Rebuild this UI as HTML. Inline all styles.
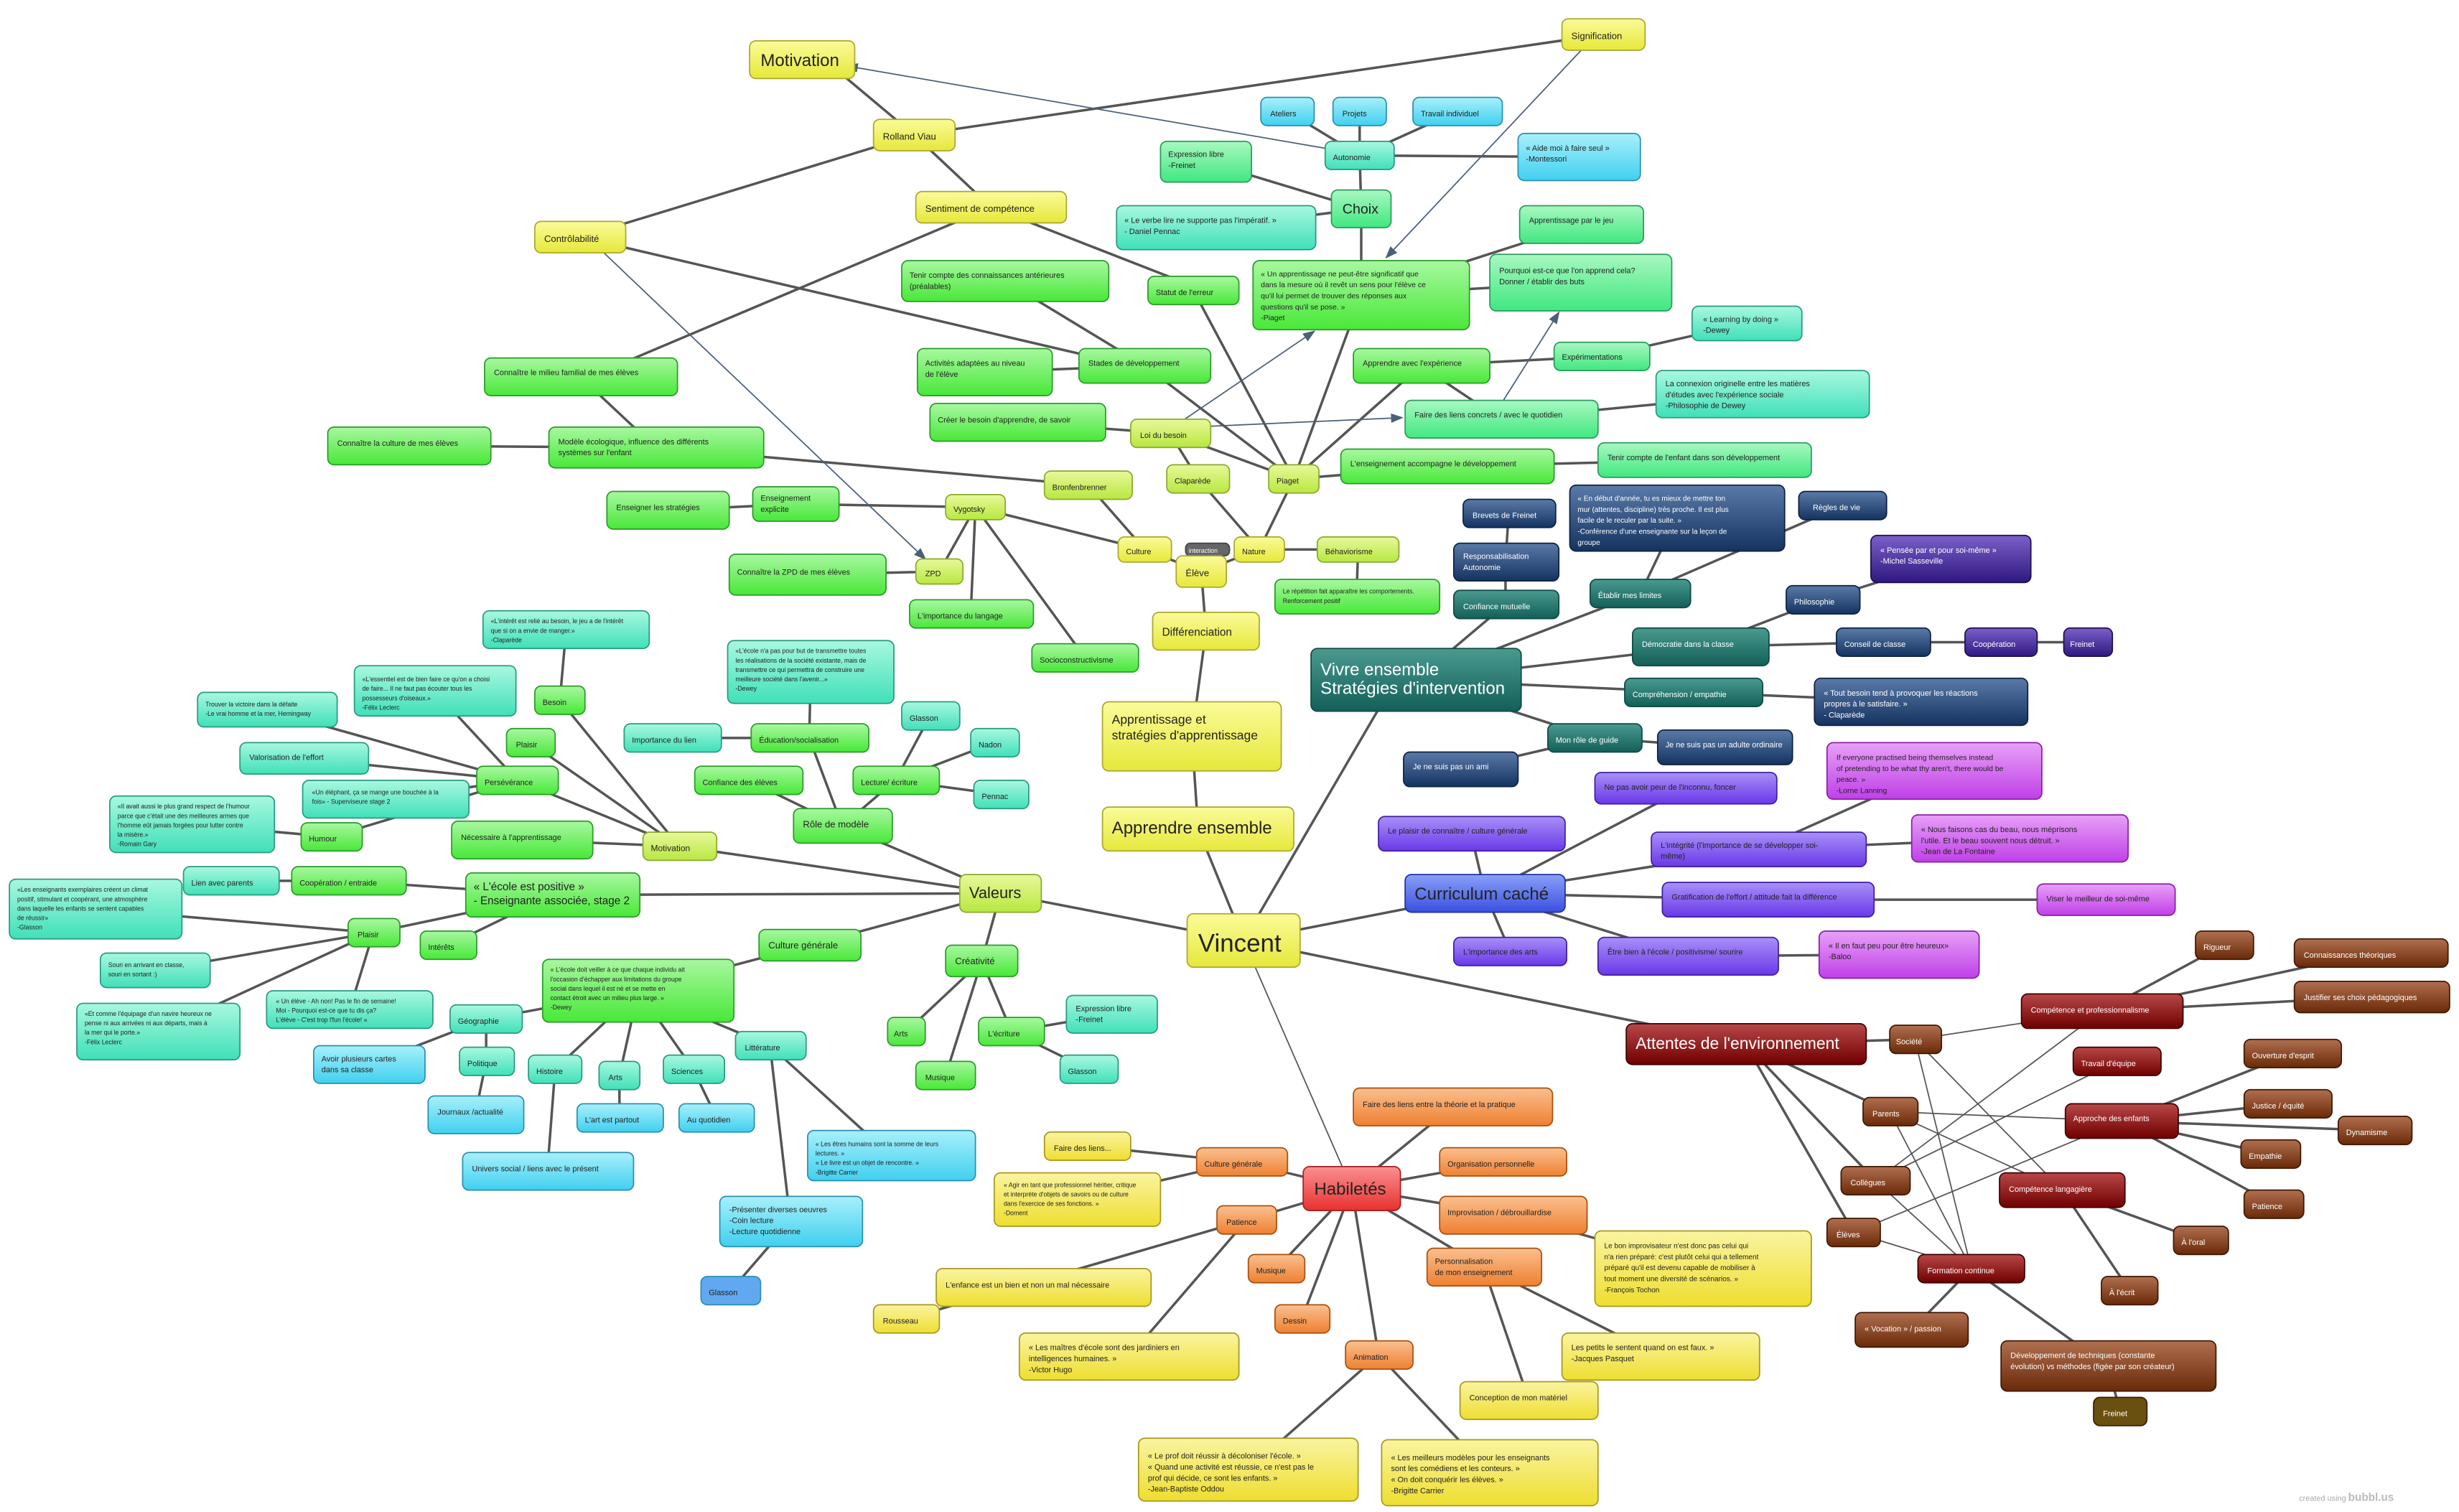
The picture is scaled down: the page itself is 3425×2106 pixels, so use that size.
<!DOCTYPE html>
<html><head><meta charset="utf-8"><style>
html,body{margin:0;padding:0;background:#fff;}
svg{display:block;}
text{font-family:"Liberation Sans",sans-serif;fill:#222;}
.e{stroke:#555;stroke-width:1.6;fill:none;stroke-linecap:round;}
.t{stroke:#555;stroke-width:0.8;fill:none;}
.a{stroke:#4a6078;stroke-width:0.8;fill:none;marker-end:url(#ar);}
.Y{fill:url(#gY);stroke:#aaa830;} .YG{fill:url(#gYG);stroke:#8aaa30;}
.G{fill:url(#gG);stroke:#2c9a2c;} .GA{fill:url(#gGA);stroke:#2c9a60;}
.A{fill:url(#gA);stroke:#2a9a80;} .C{fill:url(#gC);stroke:#2a90b0;}
.DT{fill:url(#gDT);stroke:#0e4a44;} .N{fill:url(#gN);stroke:#0e2244;}
.IN{fill:url(#gIN);stroke:#1e1050;} .P{fill:url(#gP);stroke:#4020a0;}
.B{fill:url(#gB);stroke:#2030a0;} .V{fill:url(#gV);stroke:#8a20a8;}
.DR{fill:url(#gDR);stroke:#400000;} .BR{fill:url(#gBR);stroke:#401800;}
.O{fill:url(#gO);stroke:#a85010;} .R{fill:url(#gR);stroke:#a82020;}
.YP{fill:url(#gYP);stroke:#a89820;}
rect{stroke-width:0.8;}
.w{fill:#fff;}
</style></head><body>
<svg width="3425" height="2106" viewBox="0 0 1568 963" preserveAspectRatio="none" xmlns="http://www.w3.org/2000/svg">
<defs>
<marker id="ar" markerWidth="8" markerHeight="8" refX="7" refY="3" orient="auto" markerUnits="userSpaceOnUse"><path d="M0,0 L8,3 L0,6 Z" fill="#4a6078"/></marker>
<linearGradient id="gY" x1="0" y1="0" x2="0" y2="1"><stop offset="0" stop-color="#fbfb9a"/><stop offset="1" stop-color="#e6e83a"/></linearGradient>
<linearGradient id="gYG" x1="0" y1="0" x2="0" y2="1"><stop offset="0" stop-color="#e8f89a"/><stop offset="1" stop-color="#b8e840"/></linearGradient>
<linearGradient id="gG" x1="0" y1="0" x2="0" y2="1"><stop offset="0" stop-color="#a8f8a0"/><stop offset="1" stop-color="#48e838"/></linearGradient>
<linearGradient id="gGA" x1="0" y1="0" x2="0" y2="1"><stop offset="0" stop-color="#a8f8c0"/><stop offset="1" stop-color="#40e880"/></linearGradient>
<linearGradient id="gA" x1="0" y1="0" x2="0" y2="1"><stop offset="0" stop-color="#a8f8e0"/><stop offset="1" stop-color="#40e0b8"/></linearGradient>
<linearGradient id="gC" x1="0" y1="0" x2="0" y2="1"><stop offset="0" stop-color="#a8f0fa"/><stop offset="1" stop-color="#40d0f0"/></linearGradient>
<linearGradient id="gDT" x1="0" y1="0" x2="0" y2="1"><stop offset="0" stop-color="#4a9a90"/><stop offset="1" stop-color="#126058"/></linearGradient>
<linearGradient id="gN" x1="0" y1="0" x2="0" y2="1"><stop offset="0" stop-color="#5a7aa8"/><stop offset="1" stop-color="#153360"/></linearGradient>
<linearGradient id="gIN" x1="0" y1="0" x2="0" y2="1"><stop offset="0" stop-color="#7a60c8"/><stop offset="1" stop-color="#301880"/></linearGradient>
<linearGradient id="gP" x1="0" y1="0" x2="0" y2="1"><stop offset="0" stop-color="#a890f8"/><stop offset="1" stop-color="#6a38e8"/></linearGradient>
<linearGradient id="gB" x1="0" y1="0" x2="0" y2="1"><stop offset="0" stop-color="#8aa0f8"/><stop offset="1" stop-color="#3a50e0"/></linearGradient>
<linearGradient id="gV" x1="0" y1="0" x2="0" y2="1"><stop offset="0" stop-color="#e8a0f8"/><stop offset="1" stop-color="#c040e8"/></linearGradient>
<linearGradient id="gDR" x1="0" y1="0" x2="0" y2="1"><stop offset="0" stop-color="#b84848"/><stop offset="1" stop-color="#700000"/></linearGradient>
<linearGradient id="gBR" x1="0" y1="0" x2="0" y2="1"><stop offset="0" stop-color="#b07050"/><stop offset="1" stop-color="#6a2a08"/></linearGradient>
<linearGradient id="gO" x1="0" y1="0" x2="0" y2="1"><stop offset="0" stop-color="#fac090"/><stop offset="1" stop-color="#ee8030"/></linearGradient>
<linearGradient id="gR" x1="0" y1="0" x2="0" y2="1"><stop offset="0" stop-color="#fa9090"/><stop offset="1" stop-color="#e83030"/></linearGradient>
<linearGradient id="gYP" x1="0" y1="0" x2="0" y2="1"><stop offset="0" stop-color="#faf4a0"/><stop offset="1" stop-color="#eede30"/></linearGradient>
</defs>

<!-- thick/normal edges -->
<g class="e">
<line x1="793" y1="599" x2="638" y2="569"/>
<line x1="793" y1="599" x2="764" y2="528"/>
<line x1="764" y1="528" x2="760" y2="469"/>
<line x1="760" y1="469" x2="769" y2="402"/>
<line x1="769" y1="402" x2="766" y2="364"/>
<line x1="793" y1="599" x2="880" y2="450"/>
<line x1="793" y1="599" x2="947" y2="569"/>
<line x1="793" y1="599" x2="1113" y2="665"/>
<line x1="903" y1="433" x2="960" y2="385"/>
<line x1="960" y1="385" x2="960" y2="358"/>
<line x1="960" y1="358" x2="962" y2="327"/>
<line x1="903" y1="433" x2="1046" y2="378"/>
<line x1="1046" y1="378" x2="1069" y2="330"/>
<line x1="1046" y1="378" x2="1175" y2="322"/>
<line x1="903" y1="433" x2="1084" y2="412"/>
<line x1="1084" y1="412" x2="1162" y2="382"/>
<line x1="1162" y1="382" x2="1244" y2="356"/>
<line x1="1084" y1="412" x2="1201" y2="409"/>
<line x1="1201" y1="409" x2="1276" y2="409"/>
<line x1="1276" y1="409" x2="1331" y2="409"/>
<line x1="903" y1="433" x2="1080" y2="441"/>
<line x1="1080" y1="441" x2="1225" y2="447"/>
<line x1="903" y1="433" x2="1017" y2="470"/>
<line x1="1017" y1="470" x2="931" y2="490"/>
<line x1="1017" y1="470" x2="1100" y2="476"/>
<line x1="947" y1="569" x2="1075" y2="502"/>
<line x1="947" y1="569" x2="938" y2="531"/>
<line x1="947" y1="569" x2="1121" y2="541"/>
<line x1="947" y1="569" x2="1127" y2="573"/>
<line x1="947" y1="569" x2="963" y2="606"/>
<line x1="947" y1="569" x2="1076" y2="609"/>
<line x1="1121" y1="541" x2="1233" y2="491"/>
<line x1="1121" y1="541" x2="1288" y2="534"/>
<line x1="1127" y1="573" x2="1343" y2="573"/>
<line x1="1076" y1="609" x2="1211" y2="608"/>
<line x1="1113" y1="665" x2="1221" y2="662"/>
<line x1="1113" y1="665" x2="1205" y2="708"/>
<line x1="1113" y1="665" x2="1196" y2="752"/>
<line x1="1113" y1="665" x2="1182" y2="785"/>
<line x1="1340" y1="644" x2="1418" y2="602"/>
<line x1="1340" y1="644" x2="1512" y2="607"/>
<line x1="1340" y1="644" x2="1512" y2="635"/>
<line x1="1353" y1="714" x2="1462" y2="671"/>
<line x1="1353" y1="714" x2="1459" y2="703"/>
<line x1="1353" y1="714" x2="1514" y2="720"/>
<line x1="1353" y1="714" x2="1448" y2="735"/>
<line x1="1353" y1="714" x2="1450" y2="767"/>
<line x1="1315" y1="758" x2="1403" y2="790"/>
<line x1="1315" y1="758" x2="1358" y2="822"/>
<line x1="1257" y1="808" x2="1219" y2="847"/>
<line x1="1257" y1="808" x2="1344" y2="870"/>
<line x1="1344" y1="870" x2="1352" y2="899"/>
<line x1="862" y1="757" x2="926" y2="705"/>
<line x1="862" y1="757" x2="792" y2="740"/>
<line x1="862" y1="757" x2="958" y2="740"/>
<line x1="862" y1="757" x2="795" y2="777"/>
<line x1="862" y1="757" x2="965" y2="774"/>
<line x1="862" y1="757" x2="946" y2="807"/>
<line x1="862" y1="757" x2="814" y2="808"/>
<line x1="862" y1="757" x2="830" y2="840"/>
<line x1="862" y1="757" x2="879" y2="863"/>
<line x1="792" y1="740" x2="693" y2="730"/>
<line x1="792" y1="740" x2="687" y2="764"/>
<line x1="795" y1="777" x2="578" y2="840"/>
<line x1="795" y1="777" x2="720" y2="864"/>
<line x1="965" y1="774" x2="1086" y2="808"/>
<line x1="946" y1="807" x2="1059" y2="864"/>
<line x1="946" y1="807" x2="975" y2="892"/>
<line x1="879" y1="863" x2="796" y2="936"/>
<line x1="879" y1="863" x2="950" y2="938"/>
<line x1="638" y1="569" x2="433" y2="539"/>
<line x1="638" y1="569" x2="352" y2="570"/>
<line x1="638" y1="569" x2="537" y2="526"/>
<line x1="638" y1="569" x2="516" y2="602"/>
<line x1="638" y1="569" x2="626" y2="612"/>
<line x1="433" y1="539" x2="357" y2="446"/>
<line x1="433" y1="539" x2="338" y2="473"/>
<line x1="433" y1="539" x2="330" y2="497"/>
<line x1="433" y1="539" x2="333" y2="535"/>
<line x1="357" y1="446" x2="361" y2="401"/>
<line x1="330" y1="497" x2="277" y2="440"/>
<line x1="330" y1="497" x2="170" y2="452"/>
<line x1="330" y1="497" x2="194" y2="483"/>
<line x1="330" y1="497" x2="246" y2="509"/>
<line x1="330" y1="497" x2="211" y2="533"/>
<line x1="211" y1="533" x2="122" y2="525"/>
<line x1="352" y1="570" x2="222" y2="561"/>
<line x1="352" y1="570" x2="238" y2="594"/>
<line x1="352" y1="570" x2="286" y2="602"/>
<line x1="222" y1="561" x2="147" y2="561"/>
<line x1="238" y1="594" x2="61" y2="579"/>
<line x1="238" y1="594" x2="99" y2="618"/>
<line x1="238" y1="594" x2="223" y2="643"/>
<line x1="238" y1="594" x2="101" y2="657"/>
<line x1="537" y1="526" x2="516" y2="470"/>
<line x1="537" y1="526" x2="477" y2="497"/>
<line x1="537" y1="526" x2="571" y2="497"/>
<line x1="516" y1="470" x2="517" y2="428"/>
<line x1="516" y1="470" x2="429" y2="470"/>
<line x1="571" y1="497" x2="593" y2="456"/>
<line x1="571" y1="497" x2="634" y2="473"/>
<line x1="571" y1="497" x2="638" y2="506"/>
<line x1="516" y1="602" x2="407" y2="631"/>
<line x1="407" y1="631" x2="310" y2="649"/>
<line x1="407" y1="631" x2="354" y2="681"/>
<line x1="407" y1="631" x2="395" y2="685"/>
<line x1="407" y1="631" x2="442" y2="681"/>
<line x1="407" y1="631" x2="491" y2="666"/>
<line x1="310" y1="649" x2="235" y2="678"/>
<line x1="310" y1="649" x2="310" y2="676"/>
<line x1="310" y1="676" x2="303" y2="710"/>
<line x1="354" y1="681" x2="349" y2="746"/>
<line x1="395" y1="685" x2="395" y2="712"/>
<line x1="442" y1="681" x2="457" y2="712"/>
<line x1="491" y1="666" x2="568" y2="736"/>
<line x1="491" y1="666" x2="504" y2="778"/>
<line x1="504" y1="778" x2="466" y2="822"/>
<line x1="626" y1="612" x2="578" y2="657"/>
<line x1="626" y1="612" x2="645" y2="657"/>
<line x1="626" y1="612" x2="603" y2="685"/>
<line x1="645" y1="657" x2="709" y2="646"/>
<line x1="645" y1="657" x2="694" y2="681"/>
<line x1="766" y1="364" x2="730" y2="350"/>
<line x1="766" y1="364" x2="803" y2="350"/>
<line x1="730" y1="350" x2="622" y2="323"/>
<line x1="730" y1="350" x2="694" y2="309"/>
<line x1="803" y1="350" x2="825" y2="305"/>
<line x1="803" y1="350" x2="764" y2="305"/>
<line x1="803" y1="350" x2="866" y2="350"/>
<line x1="866" y1="350" x2="865" y2="380"/>
<line x1="622" y1="323" x2="507" y2="321"/>
<line x1="507" y1="321" x2="426" y2="325"/>
<line x1="622" y1="323" x2="599" y2="364"/>
<line x1="599" y1="364" x2="515" y2="366"/>
<line x1="622" y1="323" x2="619" y2="391"/>
<line x1="622" y1="323" x2="692" y2="419"/>
<line x1="694" y1="309" x2="418" y2="285"/>
<line x1="418" y1="285" x2="261" y2="284"/>
<line x1="418" y1="285" x2="370" y2="240"/>
<line x1="825" y1="305" x2="730" y2="233"/>
<line x1="825" y1="305" x2="746" y2="276"/>
<line x1="825" y1="305" x2="761" y2="185"/>
<line x1="825" y1="305" x2="868" y2="188"/>
<line x1="825" y1="305" x2="906" y2="233"/>
<line x1="825" y1="305" x2="923" y2="297"/>
<line x1="730" y1="233" x2="641" y2="179"/>
<line x1="730" y1="233" x2="628" y2="237"/>
<line x1="746" y1="276" x2="649" y2="269"/>
<line x1="764" y1="305" x2="746" y2="276"/>
<line x1="906" y1="233" x2="957" y2="267"/>
<line x1="906" y1="233" x2="1021" y2="227"/>
<line x1="1021" y1="227" x2="1114" y2="206"/>
<line x1="957" y1="267" x2="1124" y2="251"/>
<line x1="923" y1="297" x2="1087" y2="293"/>
<line x1="868" y1="188" x2="868" y2="133"/>
<line x1="868" y1="188" x2="1008" y2="180"/>
<line x1="868" y1="188" x2="1008" y2="143"/>
<line x1="868" y1="133" x2="867" y2="99"/>
<line x1="868" y1="133" x2="769" y2="103"/>
<line x1="868" y1="133" x2="775" y2="145"/>
<line x1="867" y1="99" x2="821" y2="71"/>
<line x1="867" y1="99" x2="867" y2="71"/>
<line x1="867" y1="99" x2="929" y2="71"/>
<line x1="867" y1="99" x2="1007" y2="100"/>
<line x1="583" y1="86" x2="1022" y2="22"/>
<line x1="583" y1="86" x2="370" y2="151"/>
<line x1="583" y1="86" x2="632" y2="132"/>
<line x1="583" y1="86" x2="540" y2="50"/>
<line x1="632" y1="132" x2="400" y2="230"/>
<line x1="632" y1="132" x2="750" y2="178"/>
<line x1="370" y1="151" x2="700" y2="228"/>
</g>
<!-- thin lines -->
<g class="t">
<line x1="793" y1="599" x2="862" y2="757"/>
<line x1="1221" y1="662" x2="1340" y2="644"/>
<line x1="1221" y1="662" x2="1315" y2="758"/>
<line x1="1221" y1="662" x2="1257" y2="808"/>
<line x1="1205" y1="708" x2="1353" y2="714"/>
<line x1="1205" y1="708" x2="1315" y2="758"/>
<line x1="1205" y1="708" x2="1257" y2="808"/>
<line x1="1196" y1="752" x2="1340" y2="644"/>
<line x1="1196" y1="752" x2="1350" y2="676"/>
<line x1="1196" y1="752" x2="1257" y2="808"/>
<line x1="1182" y1="785" x2="1353" y2="714"/>
<line x1="1182" y1="785" x2="1257" y2="808"/>
</g>
<!-- arrows -->
<g>
<line class="a" x1="860" y1="97" x2="540" y2="42"/>
<line class="a" x1="1012" y1="28" x2="884" y2="164"/>
<line class="a" x1="384" y1="160" x2="590" y2="356"/>
<line class="a" x1="760" y1="272" x2="894" y2="266"/>
<line class="a" x1="754" y1="268" x2="838" y2="211"/>
<line class="a" x1="958" y1="256" x2="994" y2="199"/>
</g>

<!-- NODES -->
<g>
<rect class="Y" x="478" y="26" width="67" height="24" rx="4"/><text x="485" y="42" font-size="11">Motivation</text>
<rect class="Y" x="996" y="12" width="53" height="20" rx="4"/><text x="1002" y="25" font-size="6">Signification</text>
<rect class="Y" x="557" y="76" width="52" height="20" rx="4"/><text x="563" y="89" font-size="6">Rolland Viau</text>
<rect class="Y" x="341" y="141" width="58" height="20" rx="4"/><text x="347" y="154" font-size="6">Contrôlabilité</text>
<rect class="Y" x="584" y="122" width="96" height="20" rx="4"/><text x="590" y="135" font-size="6">Sentiment de compétence</text>

<rect class="C" x="804" y="62" width="34" height="18" rx="4"/><text x="810" y="74" font-size="5">Ateliers</text>
<rect class="C" x="850" y="62" width="34" height="18" rx="4"/><text x="856" y="74" font-size="5">Projets</text>
<rect class="C" x="901" y="62" width="57" height="18" rx="4"/><text x="906" y="74" font-size="5">Travail individuel</text>
<rect class="A" x="845" y="90" width="44" height="18" rx="4"/><text x="850" y="102" font-size="5">Autonomie</text>
<rect class="C" x="968" y="85" width="78" height="30" rx="4"/><text font-size="5"><tspan x="973" y="96">« Aide moi à faire seul »</tspan><tspan x="973" y="103">-Montessori</tspan></text>
<rect class="GA" x="740" y="90" width="58" height="26" rx="4"/><text font-size="5"><tspan x="745" y="100">Expression libre</tspan><tspan x="745" y="107">-Freinet</tspan></text>
<rect class="GA" x="849" y="121" width="38" height="24" rx="4"/><text x="856" y="136" font-size="9">Choix</text>
<rect class="A" x="712" y="131" width="127" height="28" rx="4"/><text font-size="5"><tspan x="717" y="142">« Le verbe lire ne supporte pas l'impératif. »</tspan><tspan x="717" y="149">- Daniel Pennac</tspan></text>
<rect class="GA" x="969" y="131" width="79" height="24" rx="4"/><text x="975" y="142" font-size="5">Apprentissage par le jeu</text>
<rect class="G" x="732" y="176" width="58" height="18" rx="4"/><text x="737" y="188" font-size="5">Statut de l'erreur</text>
<rect class="G" x="799" y="166" width="138" height="44" rx="4"/><text font-size="4.8"><tspan x="804" y="176">« Un apprentissage ne peut-être significatif que</tspan><tspan x="804" y="183">dans la mesure où il revêt un sens pour l'élève ce</tspan><tspan x="804" y="190">qu'il lui permet de trouver des réponses aux</tspan><tspan x="804" y="197">questions qu'il se pose. »</tspan><tspan x="804" y="204">-Piaget</tspan></text>
<rect class="GA" x="950" y="162" width="116" height="36" rx="4"/><text font-size="5"><tspan x="956" y="174">Pourquoi est-ce que l'on apprend cela?</tspan><tspan x="956" y="181">Donner / établir des buts</tspan></text>
<rect class="G" x="575" y="166" width="132" height="26" rx="4"/><text font-size="5"><tspan x="580" y="177">Tenir compte des connaissances antérieures</tspan><tspan x="580" y="184">(préalables)</tspan></text>
<rect class="G" x="309" y="228" width="123" height="24" rx="4"/><text x="315" y="239" font-size="5">Connaître le milieu familial de mes élèves</text>
<rect class="G" x="585" y="222" width="86" height="30" rx="4"/><text font-size="5"><tspan x="590" y="233">Activités adaptées au niveau</tspan><tspan x="590" y="240">de l'élève</tspan></text>
<rect class="G" x="688" y="222" width="84" height="22" rx="4"/><text x="694" y="233" font-size="5">Stades de développement</text>
<rect class="G" x="863" y="222" width="87" height="22" rx="4"/><text x="869" y="233" font-size="5">Apprendre avec l'expérience</text>
<rect class="GA" x="991" y="218" width="61" height="18" rx="4"/><text x="996" y="229" font-size="5">Expérimentations</text>
<rect class="A" x="1079" y="195" width="70" height="22" rx="4"/><text font-size="5"><tspan x="1086" y="205">« Learning by doing »</tspan><tspan x="1086" y="212">-Dewey</tspan></text>
<rect class="A" x="1056" y="236" width="136" height="30" rx="4"/><text font-size="5"><tspan x="1062" y="246">La connexion originelle entre les matières</tspan><tspan x="1062" y="253">d'études avec l'expérience sociale</tspan><tspan x="1062" y="260">-Philosophie de Dewey</tspan></text>
<rect class="G" x="593" y="257" width="112" height="24" rx="4"/><text x="598" y="269" font-size="5">Créer le besoin d'apprendre, de savoir</text>
<rect class="YG" x="721" y="267" width="51" height="18" rx="4"/><text x="727" y="279" font-size="5">Loi du besoin</text>
<rect class="GA" x="896" y="255" width="123" height="24" rx="4"/><text x="902" y="266" font-size="5">Faire des liens concrets / avec le quotidien</text>
<rect class="G" x="209" y="272" width="104" height="24" rx="4"/><text x="215" y="284" font-size="5">Connaître la culture de mes élèves</text>
<rect class="G" x="350" y="272" width="137" height="26" rx="4"/><text font-size="5"><tspan x="356" y="283">Modèle écologique, influence des différents</tspan><tspan x="356" y="290">systèmes sur l'enfant</tspan></text>
<rect class="YG" x="744" y="296" width="40" height="18" rx="4"/><text x="749" y="308" font-size="5">Claparède</text>
<rect class="YG" x="809" y="296" width="32" height="18" rx="4"/><text x="814" y="308" font-size="5">Piaget</text>
<rect class="G" x="855" y="286" width="136" height="22" rx="4"/><text x="861" y="297" font-size="5">L'enseignement accompagne le développement</text>
<rect class="GA" x="1019" y="282" width="136" height="22" rx="4"/><text x="1025" y="293" font-size="5">Tenir compte de l'enfant dans son développement</text>
<rect class="YG" x="666" y="300" width="56" height="18" rx="4"/><text x="671" y="312" font-size="5">Bronfenbrenner</text>
<rect class="G" x="387" y="313" width="78" height="24" rx="4"/><text x="393" y="325" font-size="5">Enseigner les stratégies</text>
<rect class="G" x="480" y="310" width="55" height="22" rx="4"/><text font-size="5"><tspan x="485" y="319">Enseignement</tspan><tspan x="485" y="326">explicite</tspan></text>
<rect class="YG" x="603" y="315" width="38" height="16" rx="4"/><text x="608" y="326" font-size="5">Vygotsky</text>
<rect class="Y" x="713" y="342" width="34" height="16" rx="4"/><text x="718" y="353" font-size="5">Culture</text>
<rect x="756" y="346" width="28" height="8" rx="3" fill="#666" stroke="#444"/><text x="758" y="352" font-size="4" class="w" style="fill:#fff">interaction</text>
<rect class="Y" x="787" y="342" width="32" height="16" rx="4"/><text x="792" y="353" font-size="5">Nature</text>
<rect class="YG" x="840" y="342" width="52" height="16" rx="4"/><text x="845" y="353" font-size="5">Béhaviorisme</text>
<rect class="Y" x="750" y="354" width="32" height="20" rx="4"/><text x="756" y="367" font-size="6">Élève</text>
<rect class="YG" x="584" y="356" width="30" height="16" rx="4"/><text x="590" y="367" font-size="5">ZPD</text>
<rect class="G" x="465" y="353" width="100" height="26" rx="4"/><text x="470" y="366" font-size="5">Connaître la ZPD de mes élèves</text>
<rect class="G" x="813" y="369" width="105" height="22" rx="4"/><text font-size="4"><tspan x="818" y="378">Le répétition fait apparaître les comportements.</tspan><tspan x="818" y="384">Renforcement positif</tspan></text>
<rect class="G" x="580" y="382" width="79" height="18" rx="4"/><text x="585" y="394" font-size="5">L'importance du langage</text>
<rect class="G" x="658" y="410" width="68" height="18" rx="4"/><text x="663" y="422" font-size="5">Socioconstructivisme</text>
<rect class="Y" x="735" y="390" width="68" height="24" rx="4"/><text x="741" y="405" font-size="7">Différenciation</text>

<rect class="N" x="933" y="318" width="59" height="18" rx="4"/><text x="939" y="330" font-size="5" style="fill:#fff">Brevets de Freinet</text>
<rect class="N" x="927" y="346" width="67" height="24" rx="4"/><text font-size="5" style="fill:#fff"><tspan x="933" y="356">Responsabilisation</tspan><tspan x="933" y="363">Autonomie</tspan></text>
<rect class="DT" x="927" y="376" width="67" height="18" rx="4"/><text x="933" y="388" font-size="5" style="fill:#fff">Confiance mutuelle</text>
<rect class="N" x="1001" y="309" width="137" height="42" rx="4"/><text font-size="4.6" style="fill:#fff"><tspan x="1006" y="319">« En début d'année, tu es mieux de mettre ton</tspan><tspan x="1006" y="326">mur (attentes, discipline) très proche. Il est plus</tspan><tspan x="1006" y="333">facile de le reculer par la suite. »</tspan><tspan x="1006" y="340">-Conférence d'une enseignante sur la leçon de</tspan><tspan x="1006" y="347">groupe</tspan></text>
<rect class="N" x="1147" y="313" width="56" height="18" rx="4"/><text x="1156" y="325" font-size="5" style="fill:#fff">Règles de vie</text>
<rect class="DT" x="1014" y="369" width="64" height="18" rx="4"/><text x="1019" y="381" font-size="5" style="fill:#fff">Établir mes limites</text>
<rect class="N" x="1139" y="373" width="47" height="18" rx="4"/><text x="1144" y="385" font-size="5" style="fill:#fff">Philosophie</text>
<rect class="IN" x="1193" y="341" width="102" height="30" rx="4"/><text font-size="5" style="fill:#fff"><tspan x="1199" y="352">« Pensée par et pour soi-même »</tspan><tspan x="1199" y="359">-Michel Sasseville</tspan></text>
<rect class="DT" x="1041" y="400" width="87" height="24" rx="4"/><text x="1047" y="412" font-size="5" style="fill:#fff">Démocratie dans la classe</text>
<rect class="N" x="1171" y="400" width="60" height="18" rx="4"/><text x="1176" y="412" font-size="5" style="fill:#fff">Conseil de classe</text>
<rect class="IN" x="1253" y="400" width="46" height="18" rx="4"/><text x="1258" y="412" font-size="5" style="fill:#fff">Coopération</text>
<rect class="IN" x="1316" y="400" width="31" height="18" rx="4"/><text x="1320" y="412" font-size="5" style="fill:#fff">Freinet</text>
<rect class="DT" x="836" y="413" width="134" height="40" rx="4"/><text font-size="11" style="fill:#fff"><tspan x="842" y="430">Vivre ensemble</tspan><tspan x="842" y="442">Stratégies d'intervention</tspan></text>
<rect class="DT" x="1036" y="432" width="88" height="18" rx="4"/><text x="1041" y="444" font-size="5" style="fill:#fff">Compréhension / empathie</text>
<rect class="N" x="1157" y="432" width="136" height="30" rx="4"/><text font-size="5" style="fill:#fff"><tspan x="1163" y="443">« Tout besoin tend à provoquer les réactions</tspan><tspan x="1163" y="450">propres à le satisfaire. »</tspan><tspan x="1163" y="457">- Claparède</tspan></text>
<rect class="DT" x="987" y="461" width="60" height="18" rx="4"/><text x="992" y="473" font-size="5" style="fill:#fff">Mon rôle de guide</text>
<rect class="N" x="1057" y="465" width="86" height="22" rx="4"/><text x="1062" y="476" font-size="5" style="fill:#fff">Je ne suis pas un adulte ordinaire</text>
<rect class="N" x="895" y="479" width="73" height="22" rx="4"/><text x="901" y="490" font-size="5" style="fill:#fff">Je ne suis pas un ami</text>

<rect class="V" x="1165" y="473" width="137" height="36" rx="4"/><text font-size="4.8"><tspan x="1171" y="484">If everyone practised being themselves instead</tspan><tspan x="1171" y="491">of pretending to be what thy aren't, there would be</tspan><tspan x="1171" y="498">peace. »</tspan><tspan x="1171" y="505">-Lorne Lanning</tspan></text>
<rect class="P" x="1017" y="492" width="116" height="20" rx="4"/><text x="1023" y="503" font-size="5">Ne pas avoir peur de l'inconnu, foncer</text>
<rect class="P" x="879" y="520" width="119" height="22" rx="4"/><text x="885" y="531" font-size="5">Le plaisir de connaître / culture générale</text>
<rect class="P" x="1053" y="530" width="137" height="22" rx="4"/><text font-size="5"><tspan x="1059" y="540">L'intégrité (l'importance de se développer soi-</tspan><tspan x="1059" y="547">même)</tspan></text>
<rect class="V" x="1219" y="519" width="138" height="30" rx="4"/><text font-size="5"><tspan x="1225" y="530">« Nous faisons cas du beau, nous méprisons</tspan><tspan x="1225" y="537">l'utile. Et le beau souvent nous détruit. »</tspan><tspan x="1225" y="544">-Jean de  La Fontaine</tspan></text>
<rect class="B" x="896" y="557" width="102" height="24" rx="4"/><text x="902" y="573" font-size="11">Curriculum caché</text>
<rect class="P" x="1060" y="562" width="135" height="22" rx="4"/><text x="1066" y="573" font-size="5">Gratification de l'effort / attitude fait la différence</text>
<rect class="V" x="1299" y="563" width="88" height="20" rx="4"/><text x="1305" y="574" font-size="5">Viser le meilleur de soi-même</text>
<rect class="P" x="927" y="597" width="72" height="18" rx="4"/><text x="933" y="608" font-size="5">L'importance des arts</text>
<rect class="P" x="1019" y="597" width="115" height="24" rx="4"/><text x="1025" y="608" font-size="5">Être bien à l'école / positivisme/ sourire</text>
<rect class="V" x="1160" y="593" width="102" height="30" rx="4"/><text font-size="5"><tspan x="1166" y="604">« Il en faut peu pour être heureux»</tspan><tspan x="1166" y="611">-Baloo</tspan></text>

<rect class="Y" x="757" y="582" width="72" height="34" rx="4"/><text x="764" y="606" font-size="16">Vincent</text>
<rect class="DR" x="1037" y="652" width="153" height="26" rx="4"/><text x="1043" y="668" font-size="10.5" style="fill:#fff">Attentes de l'environnement</text>

<rect class="Y" x="703" y="447" width="114" height="44" rx="4"/><text font-size="8"><tspan x="709" y="461">Apprentissage et</tspan><tspan x="709" y="471">stratégies d'apprentissage</tspan></text>
<rect class="Y" x="703" y="514" width="122" height="28" rx="4"/><text x="709" y="531" font-size="11">Apprendre ensemble</text>
<rect class="YG" x="612" y="557" width="52" height="24" rx="4"/><text x="618" y="572" font-size="10">Valeurs</text>

<rect class="A" x="308" y="389" width="106" height="24" rx="4"/><text font-size="4"><tspan x="313" y="397">«L'intérêt est relié au besoin, le jeu a de l'intérêt</tspan><tspan x="313" y="403">que si on a envie de manger.»</tspan><tspan x="313" y="409">-Claparède</tspan></text>
<rect class="G" x="341" y="437" width="32" height="18" rx="4"/><text x="346" y="449" font-size="5">Besoin</text>
<rect class="A" x="226" y="424" width="103" height="32" rx="4"/><text font-size="4"><tspan x="231" y="434">«L'essentiel est de bien faire ce qu'on a choisi</tspan><tspan x="231" y="440">de faire... Il ne faut pas écouter tous les</tspan><tspan x="231" y="446">possesseurs d'oiseaux.»</tspan><tspan x="231" y="452">-Félix Leclerc</tspan></text>
<rect class="A" x="126" y="441" width="89" height="22" rx="4"/><text font-size="4"><tspan x="131" y="450">Trouver la victoire dans la défaite</tspan><tspan x="131" y="456">-Le vrai homme et la mer, Hemingway</tspan></text>
<rect class="G" x="323" y="464" width="31" height="18" rx="4"/><text x="329" y="476" font-size="5">Plaisir</text>
<rect class="A" x="153" y="473" width="82" height="20" rx="4"/><text x="159" y="484" font-size="5">Valorisation de l'effort</text>
<rect class="G" x="304" y="488" width="52" height="18" rx="4"/><text x="309" y="500" font-size="5">Persévérance</text>
<rect class="A" x="193" y="497" width="106" height="24" rx="4"/><text font-size="4"><tspan x="199" y="506">«Un éléphant, ça se mange une bouchée à la</tspan><tspan x="199" y="512">fois» - Superviseure stage 2</tspan></text>
<rect class="A" x="70" y="507" width="105" height="36" rx="4"/><text font-size="4"><tspan x="75" y="515">«Il avait aussi le plus grand respect de l'humour</tspan><tspan x="75" y="521">parce que c'était une des meilleures armes que</tspan><tspan x="75" y="527">l'homme eût jamais forgées pour lutter contre</tspan><tspan x="75" y="533">la misère.»</tspan><tspan x="75" y="539">-Romain Gary</tspan></text>
<rect class="G" x="192" y="524" width="39" height="18" rx="4"/><text x="197" y="536" font-size="5">Humour</text>
<rect class="G" x="288" y="523" width="90" height="24" rx="4"/><text x="294" y="535" font-size="5">Nécessaire à l'apprentissage</text>
<rect class="YG" x="410" y="530" width="47" height="18" rx="4"/><text x="415" y="542" font-size="5.5">Motivation</text>
<rect class="A" x="464" y="408" width="106" height="40" rx="4"/><text font-size="4"><tspan x="469" y="416">«L'école n'a pas pour but de transmettre toutes</tspan><tspan x="469" y="422">les réalisations de la société existante, mais de</tspan><tspan x="469" y="428">transmettre ce qui permettra de construire une</tspan><tspan x="469" y="434">meilleure société dans l'avenir...»</tspan><tspan x="469" y="440">-Dewey</tspan></text>
<rect class="A" x="398" y="461" width="62" height="18" rx="4"/><text x="403" y="473" font-size="5">Importance du lien</text>
<rect class="G" x="479" y="461" width="75" height="18" rx="4"/><text x="484" y="473" font-size="5">Éducation/socialisation</text>
<rect class="A" x="575" y="447" width="37" height="18" rx="4"/><text x="580" y="459" font-size="5">Glasson</text>
<rect class="G" x="443" y="488" width="69" height="18" rx="4"/><text x="448" y="500" font-size="5">Confiance des élèves</text>
<rect class="G" x="544" y="488" width="55" height="18" rx="4"/><text x="549" y="500" font-size="5">Lecture/ écriture</text>
<rect class="A" x="619" y="464" width="31" height="18" rx="4"/><text x="624" y="476" font-size="5">Nadon</text>
<rect class="A" x="621" y="497" width="35" height="18" rx="4"/><text x="626" y="509" font-size="5">Pennac</text>
<rect class="G" x="506" y="515" width="63" height="22" rx="4"/><text x="512" y="527" font-size="6">Rôle de modèle</text>
<rect class="A" x="117" y="552" width="61" height="18" rx="4"/><text x="122" y="564" font-size="5">Lien avec parents</text>
<rect class="G" x="186" y="552" width="73" height="18" rx="4"/><text x="191" y="564" font-size="5">Coopération / entraide</text>
<rect class="G" x="297" y="556" width="111" height="28" rx="4"/><text font-size="7"><tspan x="302" y="567">« L'école est positive »</tspan><tspan x="302" y="576">- Enseignante associée, stage 2</tspan></text>
<rect class="A" x="6" y="560" width="110" height="38" rx="4"/><text font-size="4"><tspan x="11" y="568">«Les enseignants exemplaires créent un climat</tspan><tspan x="11" y="574">positif, stimulant et coopérant, une atmosphère</tspan><tspan x="11" y="580">dans laquelle les enfants se sentent capables</tspan><tspan x="11" y="586">de réussir»</tspan><tspan x="11" y="592">-Glasson</tspan></text>
<rect class="G" x="222" y="585" width="33" height="18" rx="4"/><text x="228" y="597" font-size="5">Plaisir</text>
<rect class="G" x="268" y="593" width="36" height="18" rx="4"/><text x="273" y="605" font-size="5">Intérêts</text>
<rect class="G" x="484" y="592" width="65" height="20" rx="4"/><text x="490" y="604" font-size="6">Culture générale</text>
<rect class="A" x="64" y="607" width="70" height="22" rx="4"/><text font-size="4"><tspan x="69" y="616">Souri en arrivant en classe,</tspan><tspan x="69" y="622">souri en sortant :)</tspan></text>
<rect class="G" x="603" y="602" width="46" height="20" rx="4"/><text x="609" y="614" font-size="6">Créativité</text>
<rect class="G" x="346" y="611" width="122" height="40" rx="4"/><text font-size="4"><tspan x="351" y="619">« L'école doit veiller à ce que chaque individu ait</tspan><tspan x="351" y="625">l'occasion d'échapper aux limitations du groupe</tspan><tspan x="351" y="631">social dans lequel il est né et se mette en</tspan><tspan x="351" y="637">contact étroit avec un milieu plus large. »</tspan><tspan x="351" y="643">-Dewey</tspan></text>
<rect class="A" x="287" y="640" width="46" height="18" rx="4"/><text x="292" y="652" font-size="5">Géographie</text>
<rect class="A" x="170" y="631" width="106" height="24" rx="4"/><text font-size="4"><tspan x="176" y="639">« Un élève - Ah non! Pas le fin de semaine!</tspan><tspan x="176" y="645">Moi - Pourquoi est-ce que tu dis ça?</tspan><tspan x="176" y="651">L'élève - C'est trop l'fun l'école! »</tspan></text>
<rect class="A" x="49" y="639" width="104" height="36" rx="4"/><text font-size="4"><tspan x="54" y="647">«Et comme l'équipage d'un navire heureux ne</tspan><tspan x="54" y="653">pense ni aux arrivées ni aux départs, mais à</tspan><tspan x="54" y="659">la mer qui le porte.»</tspan><tspan x="54" y="665">-Félix Leclerc</tspan></text>
<rect class="G" x="566" y="648" width="24" height="18" rx="4"/><text x="570" y="660" font-size="5">Arts</text>
<rect class="G" x="624" y="648" width="42" height="18" rx="4"/><text x="630" y="660" font-size="5">L'écriture</text>
<rect class="A" x="680" y="634" width="58" height="24" rx="4"/><text font-size="5"><tspan x="686" y="644">Expression libre</tspan><tspan x="686" y="651">-Freinet</tspan></text>
<rect class="A" x="469" y="657" width="45" height="18" rx="4"/><text x="475" y="669" font-size="5">Littérature</text>
<rect class="C" x="200" y="666" width="71" height="24" rx="4"/><text font-size="5"><tspan x="205" y="676">Avoir plusieurs cartes</tspan><tspan x="205" y="683">dans sa classe</tspan></text>
<rect class="A" x="293" y="667" width="35" height="18" rx="4"/><text x="298" y="679" font-size="5">Politique</text>
<rect class="A" x="337" y="672" width="34" height="18" rx="4"/><text x="342" y="684" font-size="5">Histoire</text>
<rect class="A" x="382" y="676" width="26" height="18" rx="4"/><text x="388" y="688" font-size="5">Arts</text>
<rect class="A" x="423" y="672" width="39" height="18" rx="4"/><text x="428" y="684" font-size="5">Sciences</text>
<rect class="A" x="676" y="672" width="37" height="18" rx="4"/><text x="681" y="684" font-size="5">Glasson</text>
<rect class="G" x="584" y="676" width="38" height="18" rx="4"/><text x="590" y="688" font-size="5">Musique</text>
<rect class="C" x="273" y="698" width="61" height="24" rx="4"/><text x="279" y="710" font-size="5">Journaux /actualité</text>
<rect class="C" x="368" y="703" width="55" height="18" rx="4"/><text x="373" y="715" font-size="5">L'art est partout</text>
<rect class="C" x="433" y="703" width="48" height="18" rx="4"/><text x="438" y="715" font-size="5">Au quotidien</text>
<rect class="C" x="515" y="720" width="107" height="32" rx="4"/><text font-size="4"><tspan x="520" y="730">« Les êtres humains sont la somme de leurs</tspan><tspan x="520" y="736">lectures. »</tspan><tspan x="520" y="742">« Le livre est un objet de rencontre. »</tspan><tspan x="520" y="748">-Brigitte Carrier</tspan></text>
<rect class="C" x="295" y="734" width="109" height="24" rx="4"/><text x="301" y="746" font-size="5">Univers social / liens avec le présent</text>
<rect class="C" x="459" y="762" width="91" height="32" rx="4"/><text font-size="5"><tspan x="465" y="772">-Présenter diverses oeuvres</tspan><tspan x="465" y="779">-Coin lecture</tspan><tspan x="465" y="786">-Lecture quotidienne</tspan></text>
<rect class="C" x="447" y="813" width="38" height="18" rx="4" style="fill:#60a8f0"/><text x="452" y="825" font-size="5">Glasson</text>

<rect class="O" x="863" y="693" width="127" height="24" rx="4"/><text x="869" y="705" font-size="5">Faire des liens entre la théorie et la pratique</text>
<rect class="YP" x="666" y="721" width="55" height="18" rx="4"/><text x="672" y="733" font-size="5">Faire des liens...</text>
<rect class="O" x="763" y="731" width="58" height="18" rx="4"/><text x="768" y="743" font-size="5">Culture générale</text>
<rect class="O" x="918" y="731" width="81" height="18" rx="4"/><text x="923" y="743" font-size="5">Organisation personnelle</text>
<rect class="R" x="831" y="743" width="62" height="28" rx="4"/><text x="838" y="761" font-size="11">Habiletés</text>
<rect class="YP" x="634" y="747" width="106" height="34" rx="4"/><text font-size="4"><tspan x="640" y="756">« Agir en tant que professionnel héritier, critique</tspan><tspan x="640" y="762">et interprète d'objets de savoirs ou de culture</tspan><tspan x="640" y="768">dans l'exercice de ses fonctions. »</tspan><tspan x="640" y="774">-Doment</tspan></text>
<rect class="O" x="776" y="768" width="38" height="18" rx="4"/><text x="782" y="780" font-size="5">Patience</text>
<rect class="O" x="918" y="762" width="94" height="24" rx="4"/><text x="923" y="774" font-size="5">Improvisation / débrouillardise</text>
<rect class="YP" x="1017" y="784" width="138" height="48" rx="4"/><text font-size="4.6"><tspan x="1023" y="795">Le bon improvisateur n'est donc pas celui qui</tspan><tspan x="1023" y="802">n'a rien préparé: c'est plutôt celui qui a tellement</tspan><tspan x="1023" y="809">préparé qu'il est devenu capable de mobiliser à</tspan><tspan x="1023" y="816">tout moment une diversité de scénarios. »</tspan><tspan x="1023" y="823">-François Tochon</tspan></text>
<rect class="O" x="910" y="795" width="73" height="24" rx="4"/><text font-size="5"><tspan x="915" y="805">Personnalisation</tspan><tspan x="915" y="812">de mon enseignement</tspan></text>
<rect class="O" x="796" y="799" width="36" height="18" rx="4"/><text x="801" y="811" font-size="5">Musique</text>
<rect class="YP" x="597" y="808" width="137" height="24" rx="4"/><text x="603" y="820" font-size="5">L'enfance est un bien et non un mal nécessaire</text>
<rect class="YP" x="557" y="831" width="42" height="18" rx="4"/><text x="563" y="843" font-size="5">Rousseau</text>
<rect class="O" x="813" y="831" width="35" height="18" rx="4"/><text x="818" y="843" font-size="5">Dessin</text>
<rect class="YP" x="650" y="849" width="140" height="30" rx="4"/><text font-size="5"><tspan x="656" y="860">« Les maîtres d'école sont des jardiniers en</tspan><tspan x="656" y="867">intelligences humaines. »</tspan><tspan x="656" y="874">-Victor Hugo</tspan></text>
<rect class="YP" x="996" y="849" width="126" height="30" rx="4"/><text font-size="5"><tspan x="1002" y="860">Les petits le sentent quand on est faux. »</tspan><tspan x="1002" y="867">-Jacques Pasquet</tspan></text>
<rect class="O" x="858" y="854" width="43" height="18" rx="4"/><text x="863" y="866" font-size="5">Animation</text>
<rect class="YP" x="931" y="880" width="88" height="24" rx="4"/><text x="937" y="892" font-size="5">Conception de mon matériel</text>
<rect class="YP" x="726" y="916" width="140" height="40" rx="4"/><text font-size="5"><tspan x="732" y="929">« Le prof doit réussir à décoloniser l'école. »</tspan><tspan x="732" y="936">« Quand une activité est réussie, ce n'est pas le</tspan><tspan x="732" y="943">prof qui décide, ce sont les enfants. »</tspan><tspan x="732" y="950">-Jean-Baptiste Oddou</tspan></text>
<rect class="YP" x="881" y="917" width="138" height="42" rx="4"/><text font-size="5"><tspan x="887" y="930">« Les meilleurs modèles pour les enseignants</tspan><tspan x="887" y="937">sont les comédiens et les conteurs. »</tspan><tspan x="887" y="944">« On doit conquérir les élèves. »</tspan><tspan x="887" y="951">-Brigitte Carrier</tspan></text>

<rect class="BR" x="1400" y="593" width="37" height="18" rx="4"/><text x="1405" y="605" font-size="5" style="fill:#fff">Rigueur</text>
<rect class="BR" x="1463" y="598" width="98" height="18" rx="4"/><text x="1469" y="610" font-size="5" style="fill:#fff">Connaissances théoriques</text>
<rect class="DR" x="1289" y="633" width="103" height="22" rx="4"/><text x="1295" y="645" font-size="5" style="fill:#fff">Compétence et professionnalisme</text>
<rect class="BR" x="1463" y="625" width="99" height="20" rx="4"/><text x="1469" y="637" font-size="5" style="fill:#fff">Justifier ses choix pédagogiques</text>
<rect class="BR" x="1205" y="653" width="33" height="18" rx="4"/><text x="1209" y="665" font-size="5" style="fill:#fff">Société</text>
<rect class="BR" x="1431" y="662" width="62" height="18" rx="4"/><text x="1436" y="674" font-size="5" style="fill:#fff">Ouverture d'esprit</text>
<rect class="DR" x="1322" y="667" width="56" height="18" rx="4"/><text x="1327" y="679" font-size="5" style="fill:#fff">Travail d'équipe</text>
<rect class="BR" x="1188" y="699" width="35" height="18" rx="4"/><text x="1194" y="711" font-size="5" style="fill:#fff">Parents</text>
<rect class="DR" x="1317" y="703" width="72" height="22" rx="4"/><text x="1322" y="714" font-size="5" style="fill:#fff">Approche des enfants</text>
<rect class="BR" x="1431" y="694" width="56" height="18" rx="4"/><text x="1436" y="706" font-size="5" style="fill:#fff">Justice / équité</text>
<rect class="BR" x="1491" y="711" width="47" height="18" rx="4"/><text x="1496" y="723" font-size="5" style="fill:#fff">Dynamisme</text>
<rect class="BR" x="1429" y="726" width="38" height="18" rx="4"/><text x="1434" y="738" font-size="5" style="fill:#fff">Empathie</text>
<rect class="BR" x="1174" y="743" width="44" height="18" rx="4"/><text x="1180" y="755" font-size="5" style="fill:#fff">Collègues</text>
<rect class="DR" x="1275" y="747" width="80" height="22" rx="4"/><text x="1281" y="759" font-size="5" style="fill:#fff">Compétence langagière</text>
<rect class="BR" x="1431" y="758" width="38" height="18" rx="4"/><text x="1436" y="770" font-size="5" style="fill:#fff">Patience</text>
<rect class="BR" x="1165" y="776" width="34" height="18" rx="4"/><text x="1171" y="788" font-size="5" style="fill:#fff">Élèves</text>
<rect class="BR" x="1386" y="781" width="35" height="18" rx="4"/><text x="1391" y="793" font-size="5" style="fill:#fff">À l'oral</text>
<rect class="DR" x="1223" y="799" width="68" height="18" rx="4"/><text x="1229" y="811" font-size="5" style="fill:#fff">Formation continue</text>
<rect class="BR" x="1340" y="813" width="36" height="18" rx="4"/><text x="1345" y="825" font-size="5" style="fill:#fff">À l'écrit</text>
<rect class="BR" x="1183" y="836" width="72" height="22" rx="4"/><text x="1189" y="848" font-size="5" style="fill:#fff">« Vocation » / passion</text>
<rect class="BR" x="1276" y="854" width="137" height="32" rx="4"/><text font-size="5" style="fill:#fff"><tspan x="1282" y="865">Développement de techniques (constante</tspan><tspan x="1282" y="872">évolution) vs méthodes (figée par son créateur)</tspan></text>
<rect class="BR" x="1335" y="890" width="34" height="18" rx="4" style="fill:#6a5010"/><text x="1341" y="902" font-size="5" style="fill:#fff">Freinet</text>

<text x="1466" y="956" font-size="5" style="fill:#aaa">created using <tspan font-weight="bold" font-size="7" style="fill:#bbb">bubbl.us</tspan></text>
</g>
</svg>
</body></html>
